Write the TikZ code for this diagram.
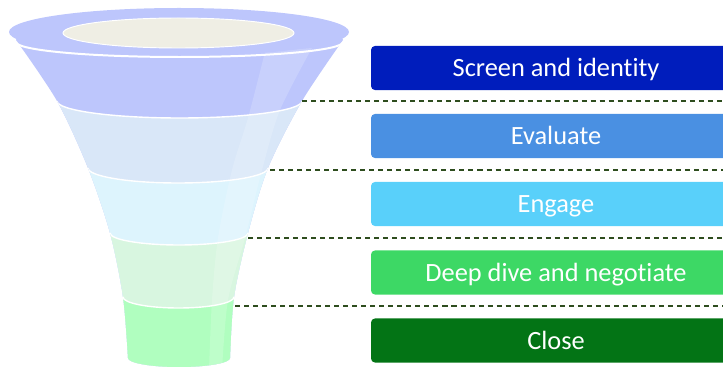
\documentclass[tikz,border=0pt]{standalone}
\usepackage{fontspec}
\setmainfont{Carlito}[Ligatures=NoCommon]

\definecolor{rimblue}{HTML}{BDC6FC}
\definecolor{innercream}{HTML}{EFEEE4}
\definecolor{layertwo}{HTML}{D9E7F8}
\definecolor{layerthree}{HTML}{DDF4FD}
\definecolor{layerfour}{HTML}{D8F6E0}
\definecolor{layerfive}{HTML}{B0FEBF}
\definecolor{boxone}{HTML}{001DBC}
\definecolor{boxtwo}{HTML}{4A90E2}
\definecolor{boxthree}{HTML}{59D0FA}
\definecolor{boxfour}{HTML}{3DD865}
\definecolor{boxfive}{HTML}{037415}
\definecolor{guidegreen}{HTML}{2E4D1E}

% outline of the funnel body below the rim
\def\funnelbody{plot[smooth] coordinates {(16,40) (57,101) (88,168) (110,233) (123,297) (128,358)}
  arc[start angle=180,end angle=0,x radius=51,y radius=9]
  -- plot[smooth] coordinates {(230,358) (234,297) (248,233) (268,168) (302,101) (343,40)}
  arc[start angle=0,end angle=-180,x radius=163.5,y radius=17] -- cycle}

\begin{document}
\begin{tikzpicture}[x=0.8536pt,y=-0.8536pt,
    stagebox/.style={rounded corners=3.4pt,minimum width=315.8pt,minimum height=37.6pt,
      inner sep=0pt,text height=14.6pt,text depth=0pt,text=white,
      font=\fontsize{22.5}{27}\selectfont},
    guide/.style={guidegreen,line width=1.2pt,dash pattern=on 4.3pt off 3.4pt}]
  \useasboundingbox (0,0) rectangle (723,367);

  % funnel layers
  \fill[rimblue] \funnelbody;
  \begin{scope}
    \clip \funnelbody;
    \foreach \lx/\ly/\rx/\ry/\col in {57/101/122.5/17/layertwo, 88/168/90/15/layerthree,
        110/233/69/12/layerfour, 123/297/55.5/11/layerfive} {
      \fill[\col] (0,\ly) -- (\lx,\ly) arc[start angle=180,end angle=0,x radius=\rx,y radius=\ry]
        -- (400,\ly) -- (400,400) -- (0,400) -- cycle;
      \draw[white,line width=1.2pt] (\lx,\ly) arc[start angle=180,end angle=0,x radius=\rx,y radius=\ry];
    }
    % glassy highlight
    \fill[white,opacity=0.18] plot[smooth] coordinates {(265,52) (248,118) (232,170) (218,238) (212,300) (209,370)}
      -- plot[smooth] coordinates {(222,370) (228,300) (245,238) (262,170) (280,110) (312,48)} -- cycle;
  \end{scope}

  % rim and opening
  \fill[rimblue] (179,32) ellipse[x radius=170,y radius=24];
  \draw[white,line width=1.7pt] (16,42) arc[start angle=180,end angle=0,x radius=163.5,y radius=15];
  \draw[white,line width=0.8pt,fill=innercream] (178.5,33) ellipse[x radius=115.5,y radius=15];

  % stage labels
  \node[stagebox,fill=boxone] (screen) at (556,68) {Screen and identity};
  \node[stagebox,fill=boxtwo] (evaluate) at (556,136) {Evaluate};
  \node[stagebox,fill=boxthree] (engage) at (556,204) {Engage};
  \node[stagebox,fill=boxfour] (deepdive) at (556,272.5) {Deep dive and negotiate};
  \node[stagebox,fill=boxfive] (close) at (556,340.5) {Close};

  % separators between stages
  \coordinate (edge) at (723,0);
  \coordinate (sepa) at (302,101);
  \coordinate (sepb) at (270,170);
  \coordinate (sepc) at (248,238);
  \coordinate (sepd) at (235,306);
  \foreach \s in {sepa,sepb,sepc,sepd}
    \draw[guide] (\s) -- (\s -| edge);
\end{tikzpicture}
\end{document}
